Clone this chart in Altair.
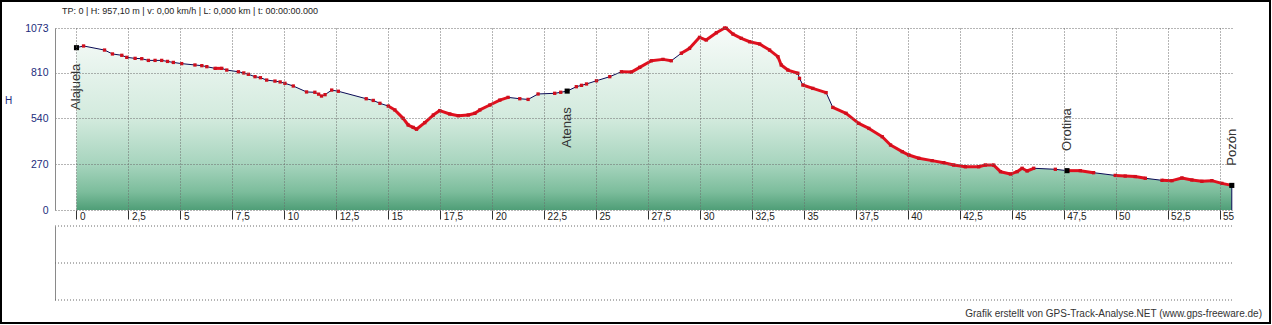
import altair as alt
import pandas as pd

FONT = "Liberation Sans, Arial, sans-serif"

# ---- track (distance km, elevation m) ----
km = [0.00, 0.34, 1.35, 1.73, 2.18, 2.42, 2.82, 3.14, 3.46, 3.78, 4.10, 4.38, 4.66, 5.06,
      5.70, 6.03, 6.27, 6.67, 6.99, 7.23, 7.79, 8.05, 8.27, 8.59, 8.85, 9.15, 9.55, 9.80,
      10.03, 10.43, 11.07, 11.47, 11.65, 11.79, 11.96, 12.28, 12.60, 13.94, 14.28, 14.60,
      15.00, 15.32, 15.72, 15.96, 16.20, 16.36, 16.76, 17.17, 17.48, 17.96, 18.37, 18.85,
      19.17, 19.41, 19.89, 20.37, 20.77, 21.33, 21.73, 22.21, 23.01, 23.30, 23.61, 24.05,
      24.30, 24.54, 25.02, 25.66, 26.22, 26.70, 27.10, 27.66, 28.22, 28.62, 29.10, 29.50,
      29.98, 30.30, 30.79, 31.19, 31.27, 31.59, 31.99, 32.39, 32.87, 33.35, 33.75, 33.91,
      34.23, 34.71, 34.79, 34.95, 35.43, 36.07, 36.39, 37.03, 37.64, 38.13, 38.77, 39.17,
      39.73, 40.05, 40.53, 41.17, 41.73, 42.21, 42.77, 43.41, 43.73, 44.13, 44.46, 44.94,
      45.26, 45.50, 45.74, 46.06, 47.10, 47.66, 48.30, 48.94, 49.98, 50.46, 50.94, 51.43,
      52.23, 52.71, 53.19, 53.67, 54.15, 54.63, 55.11, 55.59]
elev = [957, 967, 943, 920, 912, 900, 894, 892, 882, 882, 882, 876, 870, 863,
        855, 851, 845, 835, 835, 825, 815, 808, 800, 786, 780, 766, 760, 755,
        747, 731, 696, 694, 683, 672, 680, 707, 700, 656, 646, 629,
        613, 590, 540, 501, 487, 476, 515, 560, 586, 566, 556, 560,
        570, 590, 619, 648, 664, 656, 652, 684, 688, 694, 701, 727,
        735, 743, 762, 786, 815, 813, 841, 880, 888, 880, 924, 953,
        1018, 1002, 1045, 1073, 1071, 1037, 1012, 992, 979, 943, 904, 855,
        825, 806, 776, 737, 717, 692, 605, 570, 511, 481, 432, 383,
        344, 324, 305, 291, 279, 265, 255, 255, 265, 265, 226, 212,
        226, 246, 230, 246, 240, 232, 232, 220, 204, 200, 197, 187,
        175, 173, 189, 177, 169, 173, 157, 145]
# 1 = the stretch up to the next point is densely recorded (continuous red)
dense = [0, 0, 0, 0, 0, 0, 0, 0, 0, 0, 0, 0, 0, 0,
         0, 0, 0, 1, 0, 0, 0, 0, 0, 0, 0, 0, 0, 0,
         0, 0, 0, 0, 0, 0, 0, 0, 0, 0, 0, 0,
         1, 1, 1, 1, 1, 1, 1, 1, 1, 1, 1, 1,
         1, 1, 1, 1, 0, 0, 0, 0, 0, 0, 0, 0,
         0, 0, 0, 0, 1, 1, 1, 1, 1, 0, 1, 1,
         1, 1, 1, 1, 1, 1, 1, 1, 1, 1, 1, 1,
         1, 0, 0, 1, 1, 0, 1, 1, 1, 1, 1, 1,
         1, 1, 1, 1, 1, 1, 1, 1, 1, 1, 1, 1,
         1, 1, 1, 0, 0, 1, 1, 0, 1, 1, 1, 0,
         1, 1, 1, 1, 1, 1, 1, 0]

# ---- waypoints ----
wp_names = ["Alajuela", "Atenas", "Orotina", "Pozón"]
wp_km = [0.00, 23.61, 47.66, 55.59]
wp_elev = [957, 701, 232, 145]
wp_label_elev = [590, 367, 348, 261]

# ---- axes ----
x_ticks = [0, 2.5, 5, 7.5, 10, 12.5, 15, 17.5, 20, 22.5, 25, 27.5, 30, 32.5, 35,
           37.5, 40, 42.5, 45, 47.5, 50, 52.5, 55]
y_ticks = [0, 270, 540, 810, 1073]
x_domain = [-1.034, 55.6]
y_domain = [0, 1073]
lower_lines = [0, 1, 2]

header = ["TP: 0 | H: 957,10 m | v: 0,00 km/h | L: 0,000 km | t: 00:00:00.000"]
footer = ["Grafik erstellt von GPS-Track-Analyse.NET (www.gps-freeware.de)"]

NAVY = "#1c2c7c"
GRID = "#6a6a6a"

track = pd.DataFrame({"km": km, "elev": elev})
rows = []
for i in range(len(km) - 1):
    if dense[i]:
        rows.append({"seg": i, "km": km[i], "elev": elev[i]})
        rows.append({"seg": i, "km": km[i + 1], "elev": elev[i + 1]})
segs = pd.DataFrame(rows)
wps = pd.DataFrame({"name": wp_names, "km": wp_km, "elev": wp_elev, "lab": wp_label_elev})

xs = alt.Scale(domain=x_domain, nice=False, zero=False)
ys = alt.Scale(domain=y_domain, nice=False)

x_axis = alt.Axis(values=x_ticks, labelExpr="replace(toString(datum.value), '.', ',')",
                  grid=True, gridColor=GRID, gridDash=[1, 2], gridWidth=1,
                  domain=False, ticks=True, tickColor="#333333", tickSize=9,
                  labelAlign="left", labelBaseline="top", labelPadding=-8, labelOffset=3,
                  labelFontSize=10, labelColor="#222222", labelFont=FONT, labelFlush=False,
                  labelOverlap=False, title=None, zindex=1)
y_axis = alt.Axis(values=y_ticks, format="d", grid=True, gridColor=GRID, gridDash=[1, 2],
                  gridWidth=1, domain=True, domainColor="#8a8a8a", ticks=False, labelPadding=7,
                  labelFontSize=10.5, labelColor=NAVY, labelFont=FONT, labelFlush=False,
                  title="H", titleAngle=0, titleX=-47, titleY=72, titleAlign="center",
                  titleBaseline="middle", titleFontSize=10, titleFontWeight="normal",
                  titleColor=NAVY, titleFont=FONT, zindex=1)

X = alt.X("km:Q", scale=xs, axis=x_axis)
Y = alt.Y("elev:Q", scale=ys, axis=y_axis)

grad = alt.Gradient(gradient="linear", x1=0, x2=0, y1=0, y2=1, stops=[
    alt.GradientStop(color="#f7fbf9", offset=0),
    alt.GradientStop(color="#d2eadd", offset=0.5),
    alt.GradientStop(color="#a6d4bd", offset=0.75),
    alt.GradientStop(color="#7cbd9c", offset=0.9),
    alt.GradientStop(color="#4f9e77", offset=1),
])

area = alt.Chart(track).mark_area(color=grad).encode(x=X, y=Y)
line = alt.Chart(track).mark_line(color="#0a0a55", strokeWidth=1).encode(x=X, y=Y)
red = alt.Chart(segs).mark_line(color="#e0101e", strokeWidth=3).encode(x=X, y=Y, detail="seg:N")
pts = alt.Chart(track).mark_square(size=11, color="#cf0f1d", opacity=1).encode(x=X, y=Y)
end_rule = alt.Chart(track.tail(1)).mark_rule(color="#0a0a55", strokeWidth=1).encode(
    x=X, y=Y, y2=alt.datum(0))
wp_marks = alt.Chart(wps).mark_square(size=26, color="black", opacity=1).encode(x=X, y=Y)
wp_text = alt.Chart(wps).mark_text(angle=270, align="left", baseline="middle", fontSize=13,
                                   color="#333333", font=FONT).encode(
    x=X, y=alt.Y("lab:Q", scale=ys), text="name:N")
frame = alt.Chart(pd.DataFrame({"f": [0]})).mark_rect(filled=False, color="black", strokeWidth=2).encode(
    x=alt.value(-54), x2=alt.value(1215), y=alt.value(-27), y2=alt.value(295))
head = alt.Chart(pd.DataFrame({"t": header})).mark_text(
    align="left", baseline="middle", fontSize=9, font=FONT, color="#222222").encode(
    x=alt.value(7), y=alt.value(-17), text="t:N")

top = alt.layer(area, end_rule, line, red, pts, wp_marks, wp_text, frame, head).properties(
    width=1177, height=182)

lower_rules = alt.Chart(pd.DataFrame({"g": lower_lines})).mark_rule(
    color=GRID, strokeDash=[1, 2], strokeWidth=1).encode(
    y=alt.Y("g:Q", scale=alt.Scale(domain=[0, 2], nice=False),
            axis=alt.Axis(domain=True, domainColor="#8a8a8a", ticks=False, labels=False,
                          grid=False, title=None)))
foot = alt.Chart(pd.DataFrame({"t": footer})).mark_text(
    align="right", baseline="middle", fontSize=10, font=FONT, color="#333333").encode(
    x=alt.value(1207), y=alt.value(88), text="t:N")
lower = alt.layer(lower_rules, foot).properties(width=1177, height=74)

chart = alt.vconcat(top, lower, spacing=16, bounds="flush").properties(
    padding=0, autosize=alt.AutoSizeParams(type="pad"), background="white"
).configure_view(strokeWidth=0)

chart.save("out.html", embed_options={"renderer": "svg", "actions": False})
